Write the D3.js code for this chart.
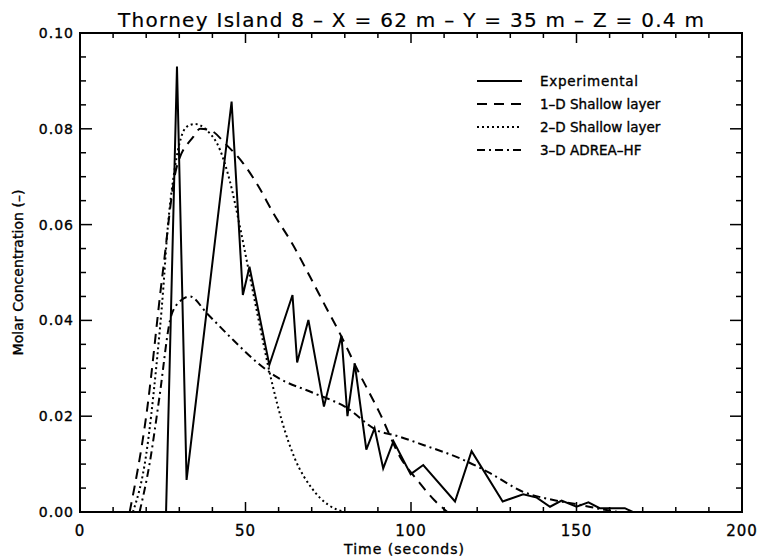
<!DOCTYPE html>
<html><head><meta charset="utf-8">
<script src="https://cdn.jsdelivr.net/npm/d3@7"></script>
<style>body{margin:0;background:#fff}</style>
</head><body><svg id="c" width="758" height="558"></svg>
<script>
const titleText = "Thorney Island 8 \u2013 X = 62 m \u2013 Y = 35 m \u2013 Z = 0.4 m";
const xTicks = [0, 50, 100, 150, 200];
const yTicks = [0.00, 0.02, 0.04, 0.06, 0.08, 0.10];
const seriesNames = ["Experimental", "1\u2013D Shallow layer", "2\u2013D Shallow layer", "3\u2013D ADREA\u2013HF"];

const expT = [26.0, 29.3, 32.2, 45.8, 49.2, 51.2, 57.2, 64.2, 65.6, 69.0, 73.7, 79.0, 80.8, 83.0, 86.5, 89.0, 91.6, 94.7, 99.9, 103.7, 113.3, 118.3, 127.7, 133.9, 138.0, 142.0, 145.5, 150.0, 153.6, 157.0, 164.6, 167.0];
const expC = [0.0, 0.093, 0.0067, 0.0857, 0.0453, 0.0512, 0.0307, 0.0453, 0.0312, 0.0401, 0.022, 0.0368, 0.020, 0.031, 0.013, 0.0175, 0.0091, 0.0148, 0.0079, 0.0098, 0.0022, 0.0127, 0.0022, 0.0037, 0.003, 0.0011, 0.0024, 0.0011, 0.002, 0.0008, 0.0008, 0.0];

const oneDT = [15, 20, 25, 29.2, 34.2, 36.3, 39.3, 44.3, 49.3, 53.9, 58.4, 64.4, 69.5, 74.5, 78.5, 84.1, 90.6, 96.7, 102.7, 107, 111];
const oneDC = [0.0, 0.02, 0.05, 0.072, 0.0783, 0.080, 0.0797, 0.0766, 0.0728, 0.068, 0.0624, 0.0557, 0.0491, 0.0425, 0.0373, 0.0293, 0.0206, 0.0115, 0.006, 0.0025, 0.0];

const twoDT = [16, 20, 23, 25.2, 26.2, 28.7, 32.2, 34.7, 38.3, 42.3, 45.3, 48.3, 50.8, 54, 57, 61, 65, 70, 75, 80];
const twoDC = [0.0, 0.012, 0.030, 0.047, 0.0568, 0.072, 0.0804, 0.081, 0.0797, 0.0756, 0.069, 0.0596, 0.051, 0.040, 0.030, 0.019, 0.011, 0.005, 0.0015, 0.0];

const threeDT = [18, 21, 24, 27.2, 29.5, 33.2, 38.3, 46.3, 53.9, 59.4, 70, 80, 90.6, 94.7, 103.7, 115.8, 123.9, 133.9, 143, 151, 159, 163];
const threeDC = [0.0, 0.01, 0.024, 0.040, 0.0435, 0.045, 0.0415, 0.0359, 0.031, 0.0282, 0.025, 0.022, 0.0168, 0.0161, 0.014, 0.0109, 0.0081, 0.0042, 0.0025, 0.0015, 0.0004, 0.0];

const svg = d3.select("#c");
const L = 80, R = 742, T = 33, B = 512;
const x = d3.scaleLinear().domain([0, 200]).range([L, R]);
const y = d3.scaleLinear().domain([0, 0.10]).range([B, T]);
const font = "DejaVu Sans, sans-serif";

function txt(sel) {
  return sel.attr("font-family", font).attr("fill", "#000").attr("stroke", "#000").attr("stroke-width", 0.35);
}

// frame
svg.append("rect").attr("x", L).attr("y", T).attr("width", R - L).attr("height", B - T)
  .attr("fill", "none").attr("stroke", "#000").attr("stroke-width", 2);

// inward ticks on all sides
const xMinor = d3.range(0, 201, 10);
const yMinor = d3.range(0, 0.1001, 0.005);
const g = svg.append("g").attr("stroke", "#000").attr("stroke-width", 1.5);
xMinor.forEach(v => {
  const major = v % 50 === 0;
  const len = major ? 10 : 5;
  g.append("line").attr("x1", x(v)).attr("x2", x(v)).attr("y1", B).attr("y2", B - len);
  g.append("line").attr("x1", x(v)).attr("x2", x(v)).attr("y1", T).attr("y2", T + len);
});
yMinor.forEach((v, i) => {
  const major = i % 4 === 0;
  const len = major ? 12 : 6;
  g.append("line").attr("y1", y(v)).attr("y2", y(v)).attr("x1", L).attr("x2", L + len);
  g.append("line").attr("y1", y(v)).attr("y2", y(v)).attr("x1", R).attr("x2", R - len);
});

txt(svg.append("g").selectAll("text").data(xTicks).join("text")
  .attr("x", d => x(d)).attr("y", 536).attr("text-anchor", "middle")
  .attr("font-size", 15).attr("letter-spacing", 1).text(d => d));
txt(svg.append("g").selectAll("text").data(yTicks).join("text")
  .attr("x", 74).attr("y", d => y(d) + 5).attr("text-anchor", "end")
  .attr("font-size", 14).attr("letter-spacing", 1).text(d => d.toFixed(2)));

txt(svg.append("text").attr("x", 404).attr("y", 554).attr("text-anchor", "middle")
  .attr("font-size", 14).attr("textLength", 120).attr("lengthAdjust", "spacing").text("Time (seconds)"));
txt(svg.append("text").attr("transform", `translate(23,${(T + B) / 2}) rotate(-90)`)
  .attr("text-anchor", "middle").attr("font-size", 14)
  .attr("textLength", 166).attr("lengthAdjust", "spacing")
  .text("Molar Concentration (\u2013)"));
svg.append("text").attr("x", 411).attr("y", 27).attr("text-anchor", "middle")
  .attr("font-family", font).attr("font-size", 20).attr("stroke", "#000").attr("stroke-width", 0.2)
  .attr("textLength", 586).attr("lengthAdjust", "spacing").text(titleText);

const styles = [
  {t: expT, c: expC, dash: null, curve: d3.curveLinear},
  {t: oneDT, c: oneDC, dash: "10,7", curve: d3.curveMonotoneX},
  {t: twoDT, c: twoDC, dash: "2,3", curve: d3.curveMonotoneX},
  {t: threeDT, c: threeDC, dash: "8,4,2,4", curve: d3.curveMonotoneX}
];
styles.forEach(s => {
  const pts = s.t.map((t, i) => [t, s.c[i]]);
  const line = d3.line().x(d => x(d[0])).y(d => y(d[1])).curve(s.curve);
  svg.append("path").attr("d", line(pts)).attr("fill", "none").attr("stroke", "#000")
    .attr("stroke-width", 2).attr("stroke-dasharray", s.dash);
});

// legend
const legY = [81, 104, 127, 150];
seriesNames.forEach((n, i) => {
  svg.append("line").attr("x1", 477).attr("x2", 522).attr("y1", legY[i]).attr("y2", legY[i])
    .attr("stroke", "#000").attr("stroke-width", 2).attr("stroke-dasharray", styles[i].dash);
  const t = txt(svg.append("text").attr("x", 540).attr("y", legY[i] + 5)
    .attr("font-size", 13.5).text(n));
  if (i === 0) t.attr("textLength", 98).attr("lengthAdjust", "spacing");
});
</script></body></html>
